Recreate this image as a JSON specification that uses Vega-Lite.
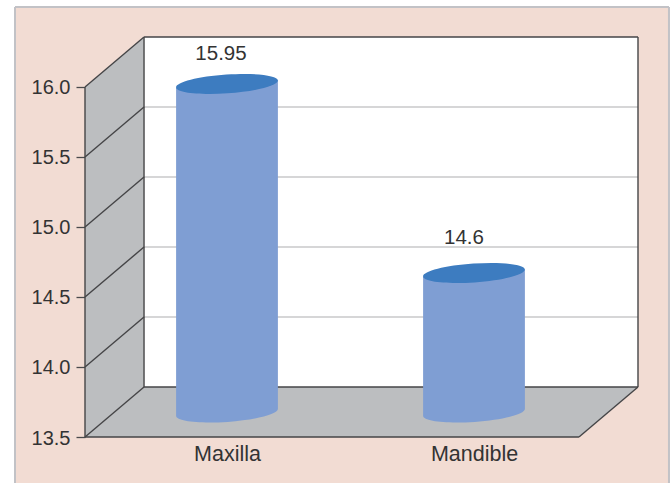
{
  "$schema": "https://vega.github.io/schema/vega-lite/v6.json",
  "width": 654,
  "height": 476,
  "autosize": "none",
  "padding": {"left": 15, "top": 7, "right": 1, "bottom": 0},
  "background": "#ffffff",
  "view": {"fill": "#f2dcd3", "stroke": null},
  "datasets": {
    "cylinders": [
      {"jaw": "Maxilla", "value": 15.95, "base": 13.7},
      {"jaw": "Mandible", "value": 14.6, "base": 13.7}
    ],
    "panelBorder": [
      {"x": -0.2834, "x2": -0.2834, "y": 16.571, "y2": 13.171},
      {"x": 2.3644, "x2": 2.3644, "y": 16.571, "y2": 13.171},
      {"x": -0.2834, "x2": 2.3644, "y": 16.571, "y2": 16.571}
    ],
    "sideWall": [
      {"x": 0, "top": 16, "bottom": 13.5},
      {"x": 0.239, "top": 16.357, "bottom": 13.857}
    ],
    "floor": [
      {"x": 0, "top": 13.5, "bottom": 13.5},
      {"x": 0.239, "top": 13.857, "bottom": 13.5},
      {"x": 2, "top": 13.857, "bottom": 13.5},
      {"x": 2.239, "top": 13.857, "bottom": 13.857}
    ],
    "backWall": [
      {"x": 0.239, "x2": 2.239, "top": 16.357, "bottom": 13.857}
    ],
    "gridlines": [
      {"x": 0.239, "x2": 2.239, "y": 14.357},
      {"x": 0.239, "x2": 2.239, "y": 14.857},
      {"x": 0.239, "x2": 2.239, "y": 15.357},
      {"x": 0.239, "x2": 2.239, "y": 15.857}
    ],
    "edges": [
      {"x": 0, "x2": 0, "y": 16, "y2": 13.5},
      {"x": 0.239, "x2": 0.239, "y": 16.357, "y2": 13.857},
      {"x": 2.239, "x2": 2.239, "y": 16.357, "y2": 13.857},
      {"x": 0.239, "x2": 2.239, "y": 16.357, "y2": 16.357},
      {"x": 0.239, "x2": 2.239, "y": 13.857, "y2": 13.857},
      {"x": 0, "x2": 2, "y": 13.5, "y2": 13.5},
      {"x": 2, "x2": 2.239, "y": 13.5, "y2": 13.857},
      {"x": 0, "x2": 0.239, "y": 13.5, "y2": 13.857},
      {"x": 0, "x2": 0.239, "y": 14, "y2": 14.357},
      {"x": 0, "x2": 0.239, "y": 14.5, "y2": 14.857},
      {"x": 0, "x2": 0.239, "y": 15, "y2": 15.357},
      {"x": 0, "x2": 0.239, "y": 15.5, "y2": 15.857},
      {"x": 0, "x2": 0.239, "y": 16, "y2": 16.357}
    ]
  },
  "encoding": {
    "y": {
      "scale": {"domain": [13.5, 16.357], "range": [430, 30], "nice": false, "zero": false},
      "type": "quantitative"
    }
  },
  "resolve": {"scale": {"x": "independent"}},
  "layer": [
    {
      "encoding": {
        "x": {
          "type": "quantitative",
          "axis": null,
          "scale": {"domain": [0, 2.239], "range": [70, 623], "nice": false, "zero": false}
        }
      },
      "layer": [
        {
          "data": {"name": "panelBorder"},
          "mark": {"type": "rule", "stroke": "#c2c2c6", "strokeWidth": 2},
          "encoding": {
            "x": {"field": "x", "type": "quantitative"},
            "x2": {"field": "x2"},
            "y": {"field": "y", "type": "quantitative"},
            "y2": {"field": "y2"}
          }
        },
        {
          "data": {"name": "backWall"},
          "mark": {"type": "rect", "fill": "#ffffff"},
          "encoding": {
            "x": {"field": "x", "type": "quantitative"},
            "x2": {"field": "x2"},
            "y": {
              "field": "top",
              "type": "quantitative",
              "title": null,
              "axis": {
                "orient": "left",
                "offset": -70,
                "values": [13.5, 14, 14.5, 15, 15.5, 16],
                "format": ".1f",
                "domain": false,
                "grid": false,
                "tickColor": "#4a4a4c",
                "tickWidth": 1.3,
                "tickSize": 9,
                "labelPadding": 6,
                "labelOffset": 1,
                "labelFont": "Liberation Sans",
                "labelFontSize": 20,
                "labelColor": "#333333"
              }
            },
            "y2": {"field": "bottom"}
          }
        },
        {
          "data": {"name": "sideWall"},
          "mark": {"type": "area", "fill": "#bcbec0", "opacity": 1},
          "encoding": {
            "x": {"field": "x", "type": "quantitative"},
            "y": {"field": "top", "type": "quantitative"},
            "y2": {"field": "bottom"}
          }
        },
        {
          "data": {"name": "floor"},
          "mark": {"type": "area", "fill": "#bcbec0", "opacity": 1},
          "encoding": {
            "x": {"field": "x", "type": "quantitative"},
            "y": {"field": "top", "type": "quantitative"},
            "y2": {"field": "bottom"}
          }
        },
        {
          "data": {"name": "gridlines"},
          "mark": {"type": "rule", "stroke": "#c8c8ca", "strokeWidth": 1.4},
          "encoding": {
            "x": {"field": "x", "type": "quantitative"},
            "x2": {"field": "x2"},
            "y": {"field": "y", "type": "quantitative"}
          }
        },
        {
          "data": {"name": "edges"},
          "mark": {"type": "rule", "stroke": "#454547", "strokeWidth": 1.4},
          "encoding": {
            "x": {"field": "x", "type": "quantitative"},
            "x2": {"field": "x2"},
            "y": {"field": "y", "type": "quantitative"},
            "y2": {"field": "y2"}
          }
        }
      ]
    },
    {
      "data": {"name": "cylinders"},
      "encoding": {
        "x": {
          "field": "jaw",
          "type": "nominal",
          "title": null,
          "sort": null,
          "scale": {"type": "point", "domain": ["Maxilla", "Mandible"], "range": [212, 459], "padding": 0},
          "axis": {
            "orient": "bottom",
            "offset": -46,
            "domain": false,
            "ticks": false,
            "grid": false,
            "labelAngle": 0,
            "labelPadding": 6,
            "labelFont": "Liberation Sans",
            "labelFontSize": 21.5,
            "labelColor": "#333333"
          }
        }
      },
      "layer": [
        {
          "mark": {"type": "bar", "size": 101.8, "fill": "#7f9ed3"},
          "encoding": {
            "y": {"field": "value", "type": "quantitative"},
            "y2": {"field": "base"}
          }
        },
        {
          "mark": {
            "type": "point",
            "filled": true,
            "opacity": 1,
            "size": 4,
            "strokeWidth": 0,
            "fill": "#7f9ed3",
            "shape": "M-50.9,0 L-50.9,7.1 A51,9.4,-4,1,0,50.9,0 Z"
          },
          "encoding": {"y": {"field": "base", "type": "quantitative"}}
        },
        {
          "mark": {
            "type": "point",
            "filled": true,
            "opacity": 1,
            "size": 4,
            "strokeWidth": 0,
            "fill": "#7f9ed3",
            "shape": "M-50.9,-6.45 L50.9,-13.55 L50.9,0 L-50.9,0 Z"
          },
          "encoding": {"y": {"field": "value", "type": "quantitative"}}
        },
        {
          "mark": {
            "type": "point",
            "filled": true,
            "opacity": 1,
            "size": 4,
            "strokeWidth": 0,
            "fill": "#3d7cc0",
            "shape": "M-50.9,-6.45 A51,9.4,-4,1,1,50.9,-13.55 A51,9.4,-4,1,1,-50.9,-6.45 Z"
          },
          "encoding": {"y": {"field": "value", "type": "quantitative"}}
        },
        {
          "transform": [{"filter": "datum.jaw === 'Maxilla'"}],
          "mark": {"type": "text", "font": "Liberation Sans", "fontSize": 20.5, "fill": "#333333", "dx": -6, "dy": -40},
          "encoding": {
            "y": {"field": "value", "type": "quantitative"},
            "text": {"field": "value", "type": "quantitative", "format": ".2f"}
          }
        },
        {
          "transform": [{"filter": "datum.jaw === 'Mandible'"}],
          "mark": {"type": "text", "font": "Liberation Sans", "fontSize": 20.5, "fill": "#333333", "dx": -10, "dy": -45},
          "encoding": {
            "y": {"field": "value", "type": "quantitative"},
            "text": {"field": "value", "type": "quantitative", "format": ".1f"}
          }
        }
      ]
    }
  ]
}
